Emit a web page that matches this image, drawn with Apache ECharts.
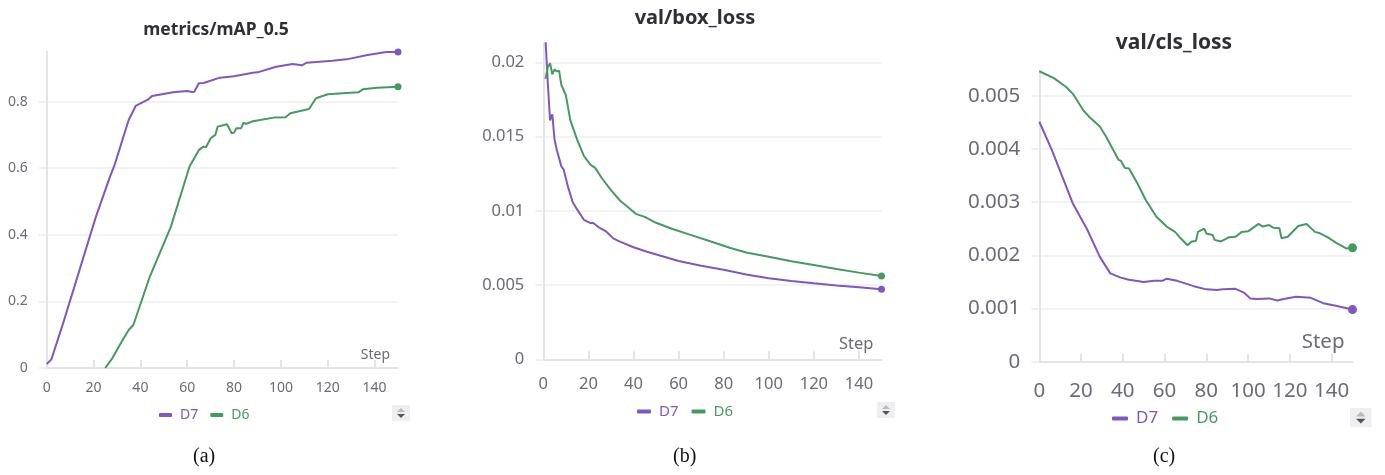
<!DOCTYPE html>
<html>
<head>
<meta charset="utf-8">
<script src="https://cdn.jsdelivr.net/npm/echarts@6/dist/echarts.min.js"></script>
<style>
html,body{margin:0;padding:0;background:#fff;}
#main{width:1385px;height:475px;}
</style>
</head>
<body>
<div id="main"></div>
<script>
// (a) metrics/mAP_0.5
var mapStepsD7 = [0,2,7,14,21,27,29,35,38,43,45,54,60,62,63,65,67,74,80,88,90,98,105,109,111,122,128,137,145,150];
var mapD7 = [0.012,0.026,0.134,0.294,0.454,0.574,0.61,0.745,0.787,0.805,0.817,0.828,0.832,0.829,0.83,0.855,0.856,0.872,0.876,0.887,0.888,0.905,0.913,0.909,0.917,0.923,0.927,0.94,0.949,0.949];
var mapStepsD6 = [25,28,32,35,37,44,47,53,61,65,67,68,70,72,73,77,79,80,81,83,84,85,88,97,102,104,112,115,120,133,135,141,150];
var mapD6 = [0,0.029,0.079,0.114,0.129,0.274,0.324,0.424,0.605,0.655,0.665,0.663,0.69,0.70,0.725,0.732,0.705,0.707,0.72,0.72,0.737,0.733,0.741,0.752,0.753,0.765,0.778,0.81,0.822,0.828,0.837,0.842,0.845];

// (b) val/box_loss
var boxStepsD7 = [0,1,2,3,4,5,6,8,9,11,13,15,18,21,22,25,28,31,34,40,46,60,70,80,90,100,110,120,130,140,150];
var boxD7 = [0.0248,0.0215,0.0186,0.0161,0.0165,0.0148,0.0141,0.0130,0.0128,0.0116,0.0106,0.0101,0.0094,0.00917,0.0092,0.00885,0.0086,0.00815,0.00793,0.00755,0.00725,0.00662,0.0063,0.00603,0.00572,0.00546,0.00528,0.00512,0.00498,0.00485,0.00472];
var boxStepsD6 = [1,2,3,4,5,6,7,8,10,12,15,18,21,23,26,30,34,38,41,45,50,57,65,75,83,90,100,110,120,130,140,150];
var boxD6 = [0.0189,0.0197,0.01995,0.0192,0.01954,0.0194,0.01945,0.0185,0.0178,0.0161,0.0148,0.0137,0.0131,0.0129,0.0122,0.0114,0.0107,0.0102,0.0098,0.0096,0.0092,0.0088,0.0084,0.0079,0.0075,0.0072,0.00691,0.0066,0.00635,0.00608,0.00584,0.00561];

// (c) val/cls_loss
var clsStepsD7 = [0,6,12,16,23,29,34,39,43,50,55,59,61,66,74,80,85,88,94,98,101,104,110,114,117,123,130,136,142,150];
var clsD7 = [0.00451,0.00398,0.00338,0.00298,0.00248,0.00197,0.00166,0.00158,0.00154,0.0015,0.00152,0.00152,0.00156,0.00152,0.00142,0.00136,0.00135,0.00136,0.00137,0.0013,0.00119,0.00118,0.00119,0.00115,0.00118,0.00122,0.0012,0.0011,0.00105,0.00098];
var clsStepsD6 = [0,7,13,16,21,24,29,32,38,39,41,43,47,51,56,61,65,67,71,73,75,76,79,80,83,84,87,91,94,97,100,105,107,110,112,115,116,119,124,128,132,134,138,142,147,150];
var clsD6 = [0.00546,0.00533,0.00516,0.00504,0.00473,0.0046,0.00442,0.00423,0.00379,0.00378,0.00364,0.00363,0.00335,0.00304,0.00273,0.00254,0.00244,0.00235,0.00219,0.00226,0.00227,0.00244,0.0025,0.00241,0.00238,0.00229,0.00226,0.00234,0.00235,0.00244,0.00245,0.00259,0.00254,0.00257,0.00252,0.00251,0.00232,0.00235,0.00255,0.00259,0.00244,0.00242,0.00234,0.00224,0.00213,0.00214];

var titles = ['metrics/mAP_0.5', 'val/box_loss', 'val/cls_loss'];
var captions = ['(a)', '(b)', '(c)'];

var PURPLE = '#7e57c2';
var GREEN = '#479a5f';
var TEXT = '#6b6b76';
var FONT = '"Noto Sans", sans-serif';

// panel layout
var panels = [
	{left:46.7, top:51.7, width:351.3, height:316.3, yMax:0.95, yInt:0.2, lab:14, tit:17.5, titX:211, titY:25, legX:154, legY:403, leg:14, capX:205, wid:[392,405]},
	{left:543.3, top:43.2, width:338.2, height:316.1, yMax:0.0213, yInt:0.005, lab:16.5, tit:20, titX:690, titY:13, legX:632, legY:399, leg:15, capX:685, wid:[877,402]},
	{left:1039.3, top:70.7, width:313.2, height:291, yMax:0.00547, yInt:0.001, lab:20.5, tit:21, titX:1169, titY:38, legX:1107, legY:405, leg:17, capX:1165, wid:[1350,408]}
];

function pairs(steps, vals){
	var out = [];
	for (var i = 0; i < steps.length; i++) {
		out.push([steps[i], vals[i]]);
	}
	return out;
}

var seriesData = [
	[pairs(mapStepsD7, mapD7), pairs(mapStepsD6, mapD6)],
	[pairs(boxStepsD7, boxD7), pairs(boxStepsD6, boxD6)],
	[pairs(clsStepsD7, clsD7), pairs(clsStepsD6, clsD6)]
];

var grid = [], xAxis = [], yAxis = [], series = [], title = [], legend = [], graphic = [];

for (var p = 0; p < panels.length; p++) {
	var c = panels[p];
	grid.push({left:c.left, top:c.top, width:c.width, height:c.height, containLabel:false});
	title.push({
		text: titles[p], left: c.titX, top: c.titY, textAlign:'center', textVerticalAlign:'middle',
		textStyle:{fontFamily:FONT, fontWeight:'bold', fontSize:c.tit, color:'#2f2f38'}
	});
	xAxis.push({
		type:'value', gridIndex:p, min:0, max:150, interval:20,
		name:'Step', nameLocation:'end', nameGap:-8,
		nameTextStyle:{fontFamily:FONT, fontSize:c.lab, color:TEXT, align:'right', verticalAlign:'bottom', padding:[0,0,Math.round(c.lab*0.45),0]},
		axisLine:{show:true, lineStyle:{color:'#e4e4e8', width:2}},
		axisTick:{show:true, inside:true, length:8, lineStyle:{color:'#e4e4e8', width:2}},
		axisLabel:{fontFamily:FONT, fontSize:c.lab, color:TEXT, margin:Math.round(c.lab*0.95), showMaxLabel:false},
		splitLine:{show:false}
	});
	yAxis.push({
		type:'value', gridIndex:p, min:0, max:c.yMax, interval:c.yInt,
		axisLine:{show:true, lineStyle:{color:'#e4e4e8', width:2}},
		axisTick:{show:true, length:8, lineStyle:{color:'#ececef', width:1.5}},
		axisLabel:{fontFamily:FONT, fontSize:c.lab, color:TEXT, margin:19, showMaxLabel:false},
		splitLine:{show:true, showMaxLine:false, showMinLine:false, lineStyle:{color:'#eeeef1', width:1.5}}
	});
	var names = ['D7', 'D6'];
	var cols = [PURPLE, GREEN];
	for (var s = 0; s < 2; s++) {
		var d = seriesData[p][s];
		var last = d.length - 1;
		series.push({
			name: names[s], type:'line', xAxisIndex:p, yAxisIndex:p,
			data: d, color: cols[s],
			showSymbol:true,
			symbol: (function(lastIdx){ return function(v, params){ return params.dataIndex === lastIdx ? 'circle' : 'none'; }; })(last),
			symbolSize: p === 2 ? 9 : 7,
			itemStyle:{color:cols[s], borderWidth:0},
			lineStyle:{width:2, color:cols[s]},
			clip:true, silent:true, animation:false
		});
	}
	legend.push({
		data:[{name:'D7', itemStyle:{color:PURPLE}, textStyle:{color:PURPLE}}, {name:'D6', itemStyle:{color:GREEN}, textStyle:{color:GREEN}}],
		left:c.legX, top:c.legY, icon:'roundRect', itemWidth:Math.round(c.leg*0.95), itemHeight:4, itemGap:Math.round(c.leg*0.85),
		textStyle:{fontFamily:FONT, fontSize:c.leg, padding:[0,0,0,Math.round(c.leg*0.2)]},
		selectedMode:false
	});
	// caption under each panel
	graphic.push({
		type:'text', left:c.capX - 12, top:447,
		style:{text:captions[p], font:'20px "Liberation Serif", serif', fill:'#111'}
	});
	// little scroll widget next to the legend
	var wx = c.wid[0], wy = c.wid[1];
	var ws = p === 2 ? 1.2 : 1;
	graphic.push({type:'rect', shape:{x:wx, y:wy, width:18*ws, height:16*ws}, style:{fill:'#efeff1'}});
	graphic.push({type:'polygon', shape:{points:[[wx+5*ws, wy+7*ws],[wx+13*ws, wy+7*ws],[wx+9*ws, wy+3*ws]]}, style:{fill:'#b9b9bf'}});
	graphic.push({type:'polygon', shape:{points:[[wx+5*ws, wy+9*ws],[wx+13*ws, wy+9*ws],[wx+9*ws, wy+13*ws]]}, style:{fill:'#55555c'}});
}

var myChart = echarts.init(document.getElementById('main'));
myChart.setOption({
	animation:false,
	backgroundColor:'#fff',
	title:title,
	grid:grid,
	xAxis:xAxis,
	yAxis:yAxis,
	legend:legend,
	series:series,
	graphic:graphic
});
</script>
</body>
</html>
